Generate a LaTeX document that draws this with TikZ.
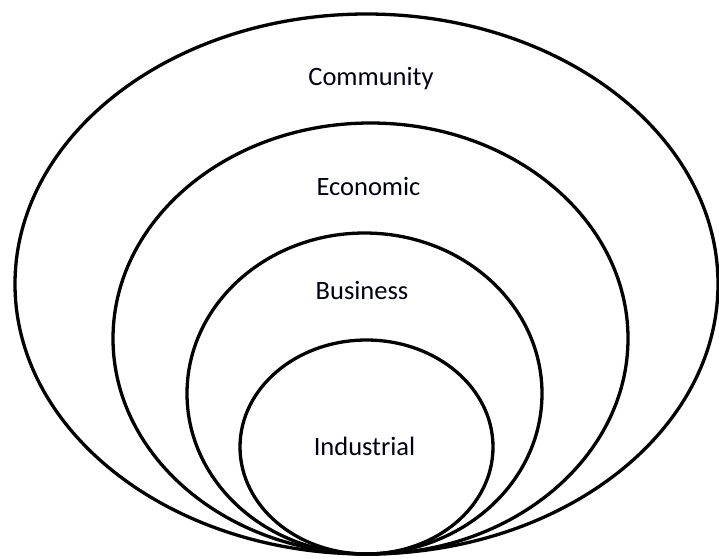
\documentclass[tikz,border=0pt]{standalone}
\usepackage{fontspec}
\setmainfont{Carlito}
\begin{document}
\begin{tikzpicture}[x=1pt,y=-1pt,
  ring/.style={draw=black,line width=3.3pt},
  lbl/.style={font=\fontsize{26.5}{30}\selectfont,text=black!92!blue,inner sep=0pt}]
\useasboundingbox (0,0) rectangle (719,558);
\draw[ring] (366.5,284) ellipse [x radius=351.5,y radius=270];
\draw[ring] (370.5,338.5) ellipse [x radius=257.5,y radius=215.5];
\draw[ring] (364.5,393.5) ellipse [x radius=177.5,y radius=160.5];
\draw[ring] (366.5,447) ellipse [x radius=126.5,y radius=107];
\node[lbl] (community) at (371,79) {Community};
\node[lbl] (economic) at (368.5,186) {Economic};
\node[lbl] (business) at (362,290) {Business};
\node[lbl] (industrial) at (364.5,446) {Industrial};
\end{tikzpicture}
\end{document}
